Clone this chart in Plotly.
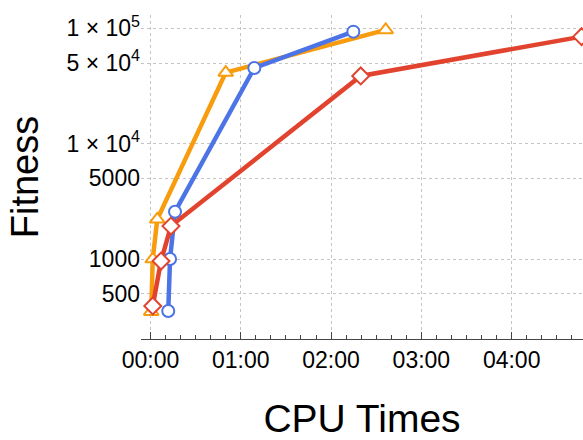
import plotly.graph_objects as go

# CPU time in seconds
blue_t = [11.8, 13.0, 16.3, 69.0, 134.8]
blue_fit = [355, 1000, 2570, 45300, 93500]

orange_t = [0.5, 1.5, 4.5, 50.0, 156.3]
orange_fit = [350, 1000, 2210, 41300, 96700]

red_t = [1.5, 7.0, 13.6, 139.7, 286.5]
red_fit = [392, 961, 1930, 38600, 84600]

x_tickvals = [0, 60, 120, 180, 240]
x_ticktext = ["00:00", "01:00", "02:00", "03:00", "04:00"]
y_tickvals = [500, 1000, 5000, 10000, 50000, 100000]
y_ticktext = ["500", "1000", "5000", "1 × 10<sup>4</sup>", "5 × 10<sup>4</sup>", "1 × 10<sup>5</sup>"]

BLUE = "#4C74E6"
ORANGE = "#F89C0E"
RED = "#E2432E"

fig = go.Figure()

def add(t, f, color, symbol, size):
    fig.add_trace(go.Scatter(
        x=t, y=f, mode="lines+markers",
        line=dict(color=color, width=4.5),
        marker=dict(symbol=symbol, size=size, color="white",
                    line=dict(color=color, width=2)),
        showlegend=False, cliponaxis=True,
    ))

add(orange_t, orange_fit, ORANGE, "triangle-up", 13)
add(blue_t, blue_fit, BLUE, "circle", 12)
add(red_t, red_fit, RED, "diamond", 13)

font = "Liberation Sans, Arial, sans-serif"

fig.update_layout(
    width=583, height=440,
    margin=dict(l=141, r=0, t=15, b=101, autoexpand=False),
    paper_bgcolor="white", plot_bgcolor="white",
    font=dict(family=font, color="black"),
    xaxis=dict(
        automargin=False,
        range=[-6.3, 287.4],
        tickmode="array", tickvals=x_tickvals, ticktext=x_ticktext,
        tickfont=dict(size=23),
        ticks="inside", ticklen=7, tickcolor="#444", tickwidth=1,
        showline=True, linecolor="#444", linewidth=1,
        showgrid=True, gridcolor="#c4c4c4", griddash="dot", gridwidth=1,
        zeroline=False,
        minor=dict(tickmode="linear", tick0=0, dtick=10, ticks="inside",
                   ticklen=4, tickcolor="#444", showgrid=False),
        title=dict(text="CPU Times", font=dict(size=39), standoff=35),
    ),
    yaxis=dict(
        automargin=False,
        type="log", range=[2.307, 5.115],
        tickmode="array", tickvals=y_tickvals, ticktext=y_ticktext,
        tickfont=dict(size=23),
        ticks="", showline=False,
        showgrid=True, gridcolor="#c4c4c4", griddash="dot", gridwidth=1,
        zeroline=False,
        title=dict(text="Fitness", font=dict(size=38), standoff=16),
    ),
)

fig.write_html("out.html", config={"displayModeBar": False},
               post_script="document.body.style.margin='0';document.body.style.overflow='hidden';")
